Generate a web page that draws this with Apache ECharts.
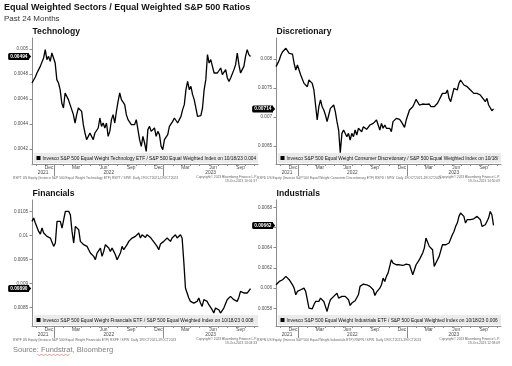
<!DOCTYPE html>
<html><head><meta charset="utf-8">
<script src="https://cdn.jsdelivr.net/npm/echarts@6/dist/echarts.min.js"></script>
<style>html,body{margin:0;padding:0;background:#fff}#c{width:512px;height:366px}</style>
</head><body><div id="c"></div>
<script>
// ---------- data ----------
const startDate = '2021-10-19';
const endDate = '2023-10-18';
const axisEndDate = '2023-11-12';

const techValues = [0.004728,0.004741,0.004776,0.004808,0.004835,0.004861,0.004875,0.004928,0.004995,0.004915,0.004941,0.004901,0.004968,0.004968,0.004888,0.004755,0.004728,0.004675,0.004568,0.004528,0.004648,0.004621,0.004595,0.004555,0.004515,0.004475,0.004408,0.004475,0.004528,0.004541,0.004501,0.004395,0.004328,0.004275,0.004301,0.004328,0.004301,0.004275,0.004328,0.004315,0.004368,0.004448,0.004381,0.004408,0.004368,0.004408,0.004301,0.004341,0.004435,0.004475,0.004408,0.004501,0.004581,0.004648,0.004595,0.004581,0.004555,0.004475,0.004435,0.004421,0.004395,0.004381,0.004395,0.004435,0.004355,0.004275,0.004221,0.004301,0.004248,0.004181,0.004355,0.004381,0.004341,0.004341,0.004368,0.004301,0.004341,0.004315,0.004221,0.004195,0.004275,0.004288,0.004315,0.004381,0.004368,0.004421,0.004448,0.004435,0.004408,0.004435,0.004461,0.004515,0.004555,0.004675,0.004741,0.004675,0.004701,0.004635,0.004595,0.004581,0.004461,0.004461,0.004467,0.004528,0.004675,0.004755,0.004955,0.004888,0.004915,0.004861,0.004808,0.004821,0.004808,0.004821,0.004848,0.004795,0.004808,0.004835,0.004768,0.004741,0.004768,0.004781,0.004835,0.004875,0.004968,0.004875,0.004808,0.004835,0.004861,0.004941,0.004995,0.004955,0.00494];

const discValues = [0.007868,0.007925,0.007983,0.008069,0.008126,0.008098,0.008184,0.008201,0.008098,0.008069,0.008086,0.007925,0.00781,0.007897,0.007925,0.007724,0.007695,0.00758,0.007609,0.007523,0.007638,0.007667,0.00758,0.007466,0.007437,0.006948,0.007178,0.007293,0.007178,0.007121,0.007035,0.00692,0.007035,0.007149,0.007178,0.007207,0.007092,0.00692,0.006776,0.006385,0.006718,0.006776,0.006805,0.006661,0.006718,0.006603,0.006718,0.006661,0.006776,0.00669,0.006805,0.006833,0.006747,0.006833,0.006862,0.006787,0.006805,0.006862,0.006833,0.006891,0.00692,0.006948,0.006862,0.006776,0.006891,0.006805,0.006862,0.006805,0.006776,0.006805,0.006747,0.00692,0.006948,0.006977,0.006989,0.00696,0.00692,0.006891,0.006822,0.006948,0.007035,0.007121,0.007149,0.007178,0.007236,0.007305,0.007282,0.007207,0.007236,0.007224,0.007207,0.007218,0.007207,0.007224,0.007178,0.007207,0.007178,0.007149,0.007236,0.007293,0.007351,0.007408,0.007437,0.007408,0.007466,0.007322,0.007264,0.007379,0.007494,0.007477,0.007466,0.00758,0.007638,0.007609,0.007552,0.007523,0.007523,0.007494,0.007466,0.007437,0.007408,0.00742,0.007408,0.007379,0.007379,0.007351,0.007305,0.007264,0.007322,0.007207,0.007178,0.007109,0.00714];

const finValues = [0.010299,0.010368,0.010264,0.010229,0.01009,0.010035,0.01016,0.010056,0.010021,0.009986,0.010021,0.009951,0.009917,0.009778,0.009847,0.010299,0.010333,0.010299,0.01016,0.010333,0.010507,0.010472,0.010507,0.010437,0.01009,0.009847,0.010194,0.01016,0.010125,0.009882,0.009847,0.009813,0.009813,0.009778,0.009708,0.009639,0.009674,0.009569,0.0095,0.009639,0.009674,0.009743,0.009569,0.009674,0.009813,0.009778,0.009743,0.009674,0.009743,0.009674,0.009604,0.0095,0.009479,0.009639,0.009778,0.009708,0.009743,0.009813,0.009882,0.009917,0.009951,0.009917,0.009986,0.009951,0.010056,0.009951,0.010021,0.010035,0.009965,0.010021,0.010056,0.009965,0.009917,0.009882,0.009826,0.009778,0.009708,0.009826,0.009847,0.009882,0.009917,0.009951,0.009917,0.009882,0.009951,0.009986,0.010021,0.009951,0.009986,0.010021,0.009951,0.009465,0.00891,0.008806,0.008701,0.008632,0.008667,0.008597,0.008563,0.008632,0.008701,0.008597,0.008528,0.008667,0.008701,0.008632,0.008563,0.008528,0.008458,0.008389,0.008493,0.008493,0.008458,0.008389,0.008424,0.008493,0.008528,0.008667,0.008667,0.008736,0.008701,0.008667,0.008701,0.008632,0.008715,0.00884,0.008826,0.008806,0.008771,0.008806,0.00884,0.0089];

const indValues = [0.006033,0.00605,0.006066,0.006059,0.006083,0.006099,0.006116,0.006132,0.006083,0.006066,0.006033,0.006,0.005934,0.005967,0.00595,0.005984,0.005967,0.006,0.005967,0.005885,0.005802,0.005809,0.005795,0.005835,0.005868,0.005885,0.005868,0.005901,0.005885,0.005868,0.005819,0.005769,0.005835,0.005885,0.005901,0.005918,0.005934,0.00595,0.005901,0.005885,0.005918,0.005934,0.005918,0.005934,0.005885,0.005828,0.005852,0.005868,0.005875,0.005885,0.005934,0.006017,0.006033,0.00604,0.006046,0.006033,0.006026,0.006017,0.006,0.005984,0.005927,0.00596,0.005974,0.006,0.006033,0.006099,0.006066,0.006116,0.006149,0.006215,0.006281,0.006248,0.006231,0.006231,0.006215,0.006231,0.006231,0.006224,0.006231,0.006238,0.006231,0.006231,0.006182,0.006132,0.006149,0.006231,0.006248,0.006281,0.006314,0.006347,0.006396,0.006495,0.006479,0.006413,0.006396,0.00638,0.006215,0.006248,0.006281,0.006314,0.00633,0.006429,0.006413,0.006429,0.006422,0.006446,0.006429,0.006528,0.006561,0.006611,0.006644,0.00671,0.006743,0.006743,0.00671,0.006644,0.006677,0.00666,0.006677,0.006693,0.006686,0.006693,0.00671,0.006726,0.006677,0.006611,0.006611,0.006627,0.00666,0.006693,0.006759,0.006726,0.00662];

const techTicks = [0.0042, 0.0044, 0.0046, 0.0048, 0.005];
const discTicks = [0.0065, 0.007, 0.0075, 0.008];
const finTicks = [0.0085, 0.009, 0.0095, 0.01, 0.0105];
const indTicks = [0.0058, 0.006, 0.0062, 0.0064, 0.0066, 0.0068];

const monthLabelDates = ['2021-12-15','2022-03-15','2022-06-15','2022-09-15','2022-12-15','2023-03-15','2023-06-15','2023-09-15'];
const monthLabelNames = ['Dec','Mar','Jun','Sep','Dec','Mar','Jun','Sep'];
const yearLabelDates = ['2021-11-25','2022-07-02','2023-06-07'];
const yearLabelNames = ['2021','2022','2023'];
const yearBreakDates = ['2022-01-01','2023-01-01'];

const titleText = 'Equal Weighted Sectors / Equal Weighted S&P 500 Ratios';
const subtitleText = 'Past 24 Months';
const sourceText = 'Source: Fundstrat, Bloomberg';

// ---------- helpers ----------
const FONT = '"Liberation Sans", Arial, sans-serif';
const DAY = 86400000;
function ts(s){ const [y,m,d] = s.split('-').map(Number); return Date.UTC(y, m-1, d) / DAY; }
const t0 = ts(startDate), t1 = ts(endDate), tMax = ts(axisEndDate);
const monthLabelTs = monthLabelDates.map(ts);
const yearLabelTs = yearLabelDates.map(ts);
const yearBreakTs = yearBreakDates.map(ts);
const monthStartTs = [];
for (let y = 2021, m = 10; y < 2023 || (y === 2023 && m <= 10); ) { monthStartTs.push(Date.UTC(y, m, 1) / DAY); m++; if (m > 11) { m = 0; y++; } }
function toSeries(vals){ return vals.map((v,i) => [t0 + i*(t1-t0)/(vals.length-1), v]); }
function fmtTick(v){ return String(+(+v).toPrecision(6)); }
function lookup(arr, names){ return (v) => { const k = arr.findIndex(a => Math.abs(a - v) < 1e-6); return k >= 0 ? names[k] : ''; }; }

const panels = [
  {title:'Technology', values:techValues, ticks:techTicks, yMin:0.00408, yMax:0.005088, left:32, top:38, width:226, height:126,
   legend:'Invesco S&P 500 Equal Weight Technology ETF / S&P 500 Equal Weighted Index on 10/18/23 ',
   footL:'RSPT US Equity (Invesco S&P 500 Equal Weight Technology ETF) RSPT / SPW  Daily 19OCT2021-19OCT2023', footR:'19-Oct-2023 10:01:37'},
  {title:'Discretionary', values:discValues, ticks:discTicks, yMin:0.00619, yMax:0.008362, left:276, top:38, width:225, height:126,
   legend:'Invesco S&P 500 Equal Weight Consumer Discretionary / S&P 500 Equal Weighted Index on 10/18/23 ',
   footL:'RSPD US Equity (Invesco S&P 500 Equal Weight Consumer Discretionary ETF) RSPD / SPW  Daily 19OCT2021-19OCT2023', footR:'19-Oct-2023 14:50:09'},
  {title:'Financials', values:finValues, ticks:finTicks, yMin:0.008119, yMax:0.010744, left:32, top:200, width:226, height:126,
   legend:'Invesco S&P 500 Equal Weight Financials ETF / S&P 500 Equal Weighted Index on 10/18/23 ',
   footL:'RSPF US Equity (Invesco S&P 500 Equal Weight Financials ETF) RSPF / SPW  Daily 19OCT2021-19OCT2023', footR:'19-Oct-2023 13:03:33'},
  {title:'Industrials', values:indValues, ticks:indTicks, yMin:0.005625, yMax:0.006872, left:276, top:200, width:225, height:126,
   legend:'Invesco S&P 500 Equal Weight Industrials ETF / S&P 500 Equal Weighted Index on 10/18/23 ',
   footL:'RSPN US Equity (Invesco S&P 500 Equal Weight Industrials ETF) RSPN / SPW  Daily 19OCT2021-19OCT2023', footR:'19-Oct-2023 12:58:09'}
];

const AX = '#8c8c8c', LBL = '#4a4a4a';
const grid = [], xAxis = [], yAxis = [], series = [];
const graphic = [
  {type:'text', x:4, y:8, z:10, style:{text:titleText, font:'bold 9px '+FONT, fill:'#111', verticalAlign:'middle'}},
  {type:'text', x:4, y:18.5, z:10, style:{text:subtitleText, font:'8px '+FONT, fill:'#333', verticalAlign:'middle'}},
  {type:'text', x:13, y:350, z:10, style:{text:sourceText, font:'7.5px '+FONT, fill:'#808080', verticalAlign:'middle'}}
];

panels.forEach((p, i) => {
  const last = p.values[p.values.length - 1];
  const lastLabel = last.toFixed(5);
  grid.push({left:p.left, top:p.top, width:p.width, height:p.height, containLabel:false});
  xAxis.push({type:'value', gridIndex:i, min:t0, max:tMax, position:'bottom',
    axisLine:{show:true, onZero:false, lineStyle:{color:AX, width:1}},
    axisTick:{show:true, customValues:monthStartTs, length:2, lineStyle:{color:AX, width:1}},
    axisLabel:{show:true, customValues:monthLabelTs, formatter:lookup(monthLabelTs, monthLabelNames), fontSize:4.8, color:LBL, margin:1.5, fontFamily:FONT},
    splitLine:{show:false}, minorTick:{show:false}});
  xAxis.push({type:'value', gridIndex:i, min:t0, max:tMax, position:'bottom', offset:0,
    axisLine:{show:false, onZero:false},
    axisTick:{show:true, customValues:yearBreakTs, length:12, lineStyle:{color:AX, width:1}},
    axisLabel:{show:true, customValues:yearLabelTs, formatter:lookup(yearLabelTs, yearLabelNames), fontSize:4.8, color:LBL, margin:6.5, fontFamily:FONT},
    splitLine:{show:false}});
  yAxis.push({type:'value', gridIndex:i, min:p.yMin, max:p.yMax, position:'left',
    axisLine:{show:true, onZero:false, lineStyle:{color:AX, width:1}},
    axisTick:{show:true, customValues:p.ticks, length:2.5, lineStyle:{color:AX}},
    axisLabel:{show:true, customValues:p.ticks, formatter:fmtTick, fontSize:4.6, color:LBL, margin:4, fontFamily:FONT},
    splitLine:{show:false}});
  series.push({type:'line', xAxisIndex:2*i, yAxisIndex:i, data:toSeries(p.values), showSymbol:false, symbol:'none',
    lineStyle:{color:'#000', width:1.3}, animation:false, z:3});
  const bx = p.left + 2, by = p.top + p.height - 11, bw = p.width - 2, bh = 10;
  graphic.push({type:'rect', z:5, shape:{x:bx, y:by, width:bw, height:bh}, style:{fill:'#ebebeb'}});
  graphic.push({type:'rect', z:6, shape:{x:bx+2.5, y:by+3, width:4, height:4}, style:{fill:'#000'}});
  graphic.push({type:'text', z:6, x:bx+8.5, y:by+5.2, style:{text:p.legend + lastLabel, font:'4.8px '+FONT, fill:'#111', verticalAlign:'middle', width:bw-9, overflow:'truncate', ellipsis:''}});
  graphic.push({type:'text', z:10, x:p.left + 0.5, y:p.top - 6, style:{text:p.title, font:'bold 8.6px '+FONT, fill:'#111', verticalAlign:'middle'}});
  const fy = p.top + p.height + 14;
  graphic.push({type:'text', z:10, x:p.left - 19, y:fy, style:{text:p.footL, font:'3.3px '+FONT, fill:'#666', verticalAlign:'middle'}});
  graphic.push({type:'text', z:10, x:p.left + p.width - 1, y:fy - 0.5, style:{text:'Copyright\u00a9 2023 Bloomberg Finance L.P.', font:'3.3px '+FONT, fill:'#666', align:'right', verticalAlign:'middle'}});
  graphic.push({type:'text', z:10, x:p.left + p.width - 1, y:fy + 3.5, style:{text:p.footR, font:'3.3px '+FONT, fill:'#666', align:'right', verticalAlign:'middle'}});
});

const sq = [];
for (let k = 0; k <= 16; k++) sq.push([37.5 + k*2, 354.5 + (k % 2 ? 0.9 : 0)]);
graphic.push({type:'polyline', z:10, shape:{points:sq}, style:{stroke:'#e05050', lineWidth:0.6, fill:null}});

const chart = echarts.init(document.getElementById('c'), null, {renderer:'canvas'});
chart.setOption({
  backgroundColor:'#ffffff',
  animation:false,
  textStyle:{fontFamily:FONT},
  grid, xAxis, yAxis, series, graphic
});

// last-value tags (pointed black labels) placed through the library's own scales
const tags = [];
panels.forEach((p, i) => {
  const last = p.values[p.values.length - 1];
  const yPix = chart.convertToPixel({yAxisIndex:i}, last);
  tags.push({type:'polygon', z:30, shape:{points:[[p.left - 3.5, yPix - 3.1], [p.left - 0.8, yPix], [p.left - 3.5, yPix + 3.1]]}, style:{fill:'#000'}});
  tags.push({type:'text', z:31, x:p.left - 3, y:yPix,
    style:{text:last.toFixed(5), font:'bold 4.8px '+FONT, fill:'#fff', align:'right', verticalAlign:'middle',
      backgroundColor:'#000', borderRadius:[1.5,0,0,1.5], padding:[1.2,1.5,0.8,2]}});
});
chart.setOption({graphic: graphic.concat(tags)}, {replaceMerge:['graphic']});
</script>
</body></html>
